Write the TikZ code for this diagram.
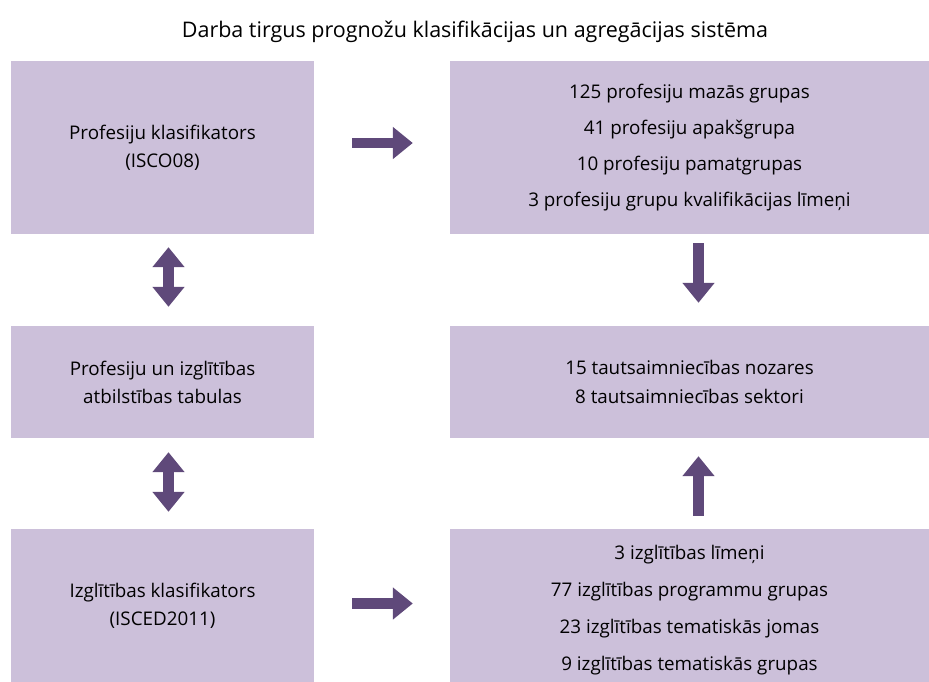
\documentclass[tikz,border=0pt]{standalone}
\usepackage{fontspec}
\setmainfont{Open Sans}
\usepackage{tikz}
\usetikzlibrary{arrows.meta,positioning}
\definecolor{boxlilac}{HTML}{CCC0DA}
\definecolor{arrowpurple}{HTML}{5F497A}

\begin{document}
\begin{tikzpicture}[x=1pt,y=-1pt,
 font=\fontsize{18.8}{28}\selectfont,
 leftbox/.style={fill=boxlilac,minimum width=303pt,align=center,inner sep=0pt},
 rightbox/.style={fill=boxlilac,minimum width=479pt,align=center,inner sep=0pt},
 flow/.style={-{Triangle[length=20pt,width=31pt]},draw=arrowpurple,line width=10.5pt},
 dflow/.style={{Triangle[length=20pt,width=31pt]}-{Triangle[length=20pt,width=31pt]},draw=arrowpurple,line width=10.5pt}]
\useasboundingbox (0,0) rectangle (929,682);
\node (title) at (475,32) {\fontsize{21.5}{25}\selectfont Darba tirgus prognožu klasifikācijas un agregācijas sistēma};
\node[leftbox,minimum height=173pt] (isco) at (162.5,147.5) {Profesiju klasifikators\\(ISCO08)};
\node[rightbox,minimum height=173pt,font=\fontsize{18.8}{36}\selectfont] (groups) at (689.5,147.5) {125 profesiju mazās grupas\\41 profesiju apakšgrupa\\10 profesiju pamatgrupas\\3 profesiju grupu kvalifikācijas līmeņi};
\node[leftbox,minimum height=112pt] (table) at (162.5,382) {Profesiju un izglītības\\atbilstības tabulas};
\node[rightbox,minimum height=112pt,font=\fontsize{18.8}{29}\selectfont] (sectors) at (689.5,382) {15 tautsaimniecības nozares\\8 tautsaimniecības sektori};
\node[leftbox,minimum height=153pt] (isced) at (162.5,605.5) {Izglītības klasifikators\\(ISCED2011)};
\node[rightbox,minimum height=153pt] (edu) at (689.5,605.5) {};
\node[align=center,font=\fontsize{18.8}{37}\selectfont] (edutext) at ([yshift=-4.5pt]edu.center) {3 izglītības līmeņi\\77 izglītības programmu grupas\\23 izglītības tematiskās jomas\\9 izglītības tematiskās grupas};
% arrows
\draw[flow,shorten <=38pt,shorten >=37pt] ([yshift=4.5pt]isco.east)--([yshift=4.5pt]groups.west);
\draw[flow,shorten <=38pt,shorten >=37pt] ([yshift=2pt]isced.east)--([yshift=2pt]edu.west);
\draw[dflow,shorten <=13pt,shorten >=19pt] ([xshift=6pt]isco.south)--([xshift=6pt]table.north);
\draw[dflow,shorten <=14pt,shorten >=17pt] ([xshift=6pt]table.south)--([xshift=6pt]isced.north);
\draw[flow,shorten <=9pt,shorten >=23pt] ([xshift=9pt]groups.south)--([xshift=9pt]sectors.north);
\draw[flow,shorten <=13pt,shorten >=18pt] ([xshift=9pt]edu.north)--([xshift=9pt]sectors.south);
\end{tikzpicture}
\end{document}
